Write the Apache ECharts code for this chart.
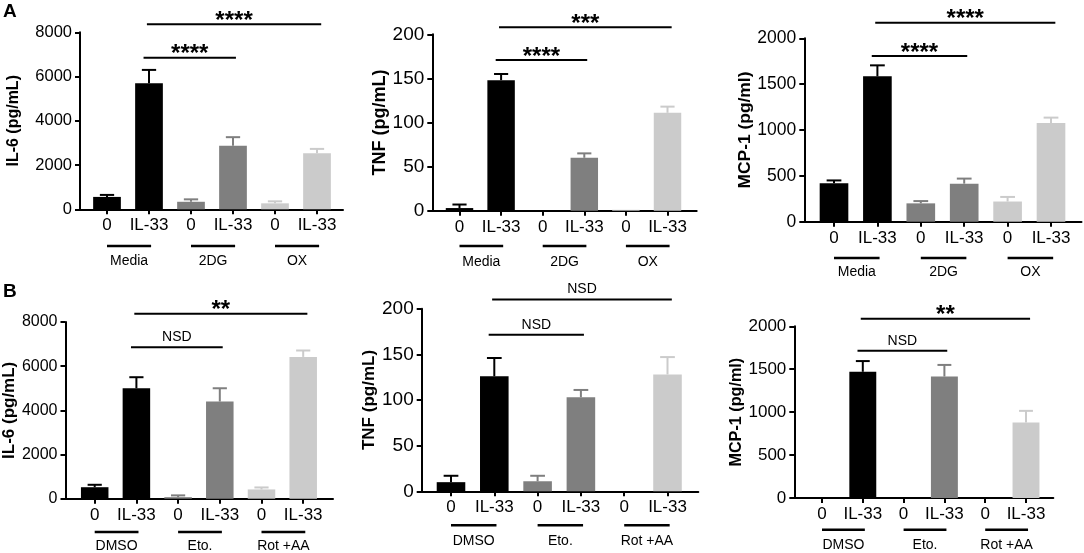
<!DOCTYPE html>
<html><head><meta charset="utf-8">
<script src="https://cdn.jsdelivr.net/npm/echarts@6/dist/echarts.min.js"></script>
<style>html,body{margin:0;padding:0;background:#fff}#c{width:1084px;height:553px}</style>
</head><body><div id="c"></div>
<script>
// ---------- data ----------
const catLabels = ['0', 'IL-33', '0', 'IL-33', '0', 'IL-33'];
const groupsA = ['Media', '2DG', 'OX'];
const groupsB = ['DMSO', 'Eto.', 'Rot +AA'];

const il6A = [560, 5700, 340, 2870, 270, 2530];
const il6AErr = [90, 600, 110, 390, 90, 200];
const tnfA = [3, 148, 0, 60, 1, 111];
const tnfAErr = [4, 7, 0, 5, 0, 7];
const mcpA = [420, 1585, 200, 415, 220, 1075];
const mcpAErr = [30, 120, 25, 55, 50, 60];

const il6B = [520, 5000, 70, 4400, 420, 6420];
const il6BErr = [110, 500, 80, 600, 90, 290];
const tnfB = [10, 126, 11, 103, 0, 128];
const tnfBErr = [7, 20, 6, 8, 0, 19];
const mcpB = [0, 1470, 0, 1415, 0, 880];
const mcpBErr = [0, 125, 0, 135, 0, 135];

// significance labels: [IL-33 vs group3 IL-33 (upper), IL-33 vs group2 IL-33 (lower)]
const sigA1 = ['****', '****'];
const sigA2 = ['***', '****'];
const sigA3 = ['****', '****'];
const sigB1 = ['**', 'NSD'];
const sigB2 = ['NSD', 'NSD'];
const sigB3 = ['**', 'NSD'];
// bracket comparisons (category indices)
const comparisons = [[1, 5], [1, 3]];
// bracket heights in data units
const brkA1 = [8360, 6850];
const brkA2 = [208, 171];
const brkA3 = [2170, 1807];
const brkB1 = [8376, 6854];
const brkB2 = [210, 171.5];
const brkB3 = [2089, 1716];

// ---------- layout / style ----------
const FONT = '"Liberation Sans", Arial, Helvetica, sans-serif';
const colors = ['#000000', '#7f7f7f', '#cbcbcb'];
const ROWH = 275;

const panels = [
  {vals: il6A, errs: il6AErr, groups: groupsA, sig: sigA1, brk: brkA1, yName: 'IL-6 (pg/mL)', max: 8000, interval: 2000,
   L: {axL: 80, axR: 343, top: 32.3, bot: 209.3, c0: 107, step: 42, nameGap: 58, rowTop: 0, ulOff: 36.7, glOff: 52, tickFont: 16.5, nameFont: 16}},
  {vals: tnfA, errs: tnfAErr, groups: groupsA, sig: sigA2, brk: brkA2, yName: 'TNF (pg/mL)', max: 200, interval: 50,
   L: {axL: 432.3, axR: 696.7, top: 34.3, bot: 210.7, c0: 459.5, step: 41.6, nameGap: 39, rowTop: 0, ulOff: 35.3, glOff: 51, tickFont: 19, nameFont: 18}},
  {vals: mcpA, errs: mcpAErr, groups: groupsA, sig: sigA3, brk: brkA3, yName: 'MCP-1 (pg/ml)', max: 2000, interval: 500,
   L: {axL: 804.3, axR: 1081.5, top: 38.3, bot: 221.7, c0: 834, step: 43.4, nameGap: 49, rowTop: 0, ulOff: 36.3, glOff: 50, tickFont: 17.5, nameFont: 17.4}},
  {vals: il6B, errs: il6BErr, groups: groupsB, sig: sigB1, brk: brkB1, yName: 'IL-6 (pg/mL)', max: 8000, interval: 2000,
   L: {axL: 62, axR: 333, top: 322, bot: 498.7, c0: 94.7, step: 41.7, nameGap: 42, rowTop: 278, ulOff: 33.3, glOff: 47.3, tickFont: 16, nameFont: 17}},
  {vals: tnfB, errs: tnfBErr, groups: groupsB, sig: sigB2, brk: brkB2, yName: 'TNF (pg/mL)', max: 200, interval: 50,
   L: {axL: 421.7, axR: 698.3, top: 308.7, bot: 491.3, c0: 451, step: 43.3, nameGap: 39, rowTop: 278, ulOff: 34, glOff: 50, tickFont: 19, nameFont: 17}},
  {vals: mcpB, errs: mcpBErr, groups: groupsB, sig: sigB3, brk: brkB3, yName: 'MCP-1 (pg/ml)', max: 2000, interval: 500,
   L: {axL: 794.3, axR: 1053.3, top: 326.3, bot: 498, c0: 822, step: 40.8, nameGap: 46, rowTop: 278, ulOff: 31.7, glOff: 46.7, tickFont: 17, nameFont: 16.2}}
];

const grid = [], xAxis = [], yAxis = [], series = [];

panels.forEach(function (p) {
  const L = p.L;
  const plotH = L.bot - L.top;
  const upp = p.max / plotH;

  // axes frame grid
  let gi = grid.length;
  grid.push({left: L.axL, top: L.top, width: L.axR - L.axL, height: plotH});
  xAxis.push({gridIndex: gi, type: 'value', min: 0, max: 1,
    axisLine: {show: true, onZero: false, lineStyle: {color: '#000', width: 2}},
    axisTick: {show: false}, axisLabel: {show: false}, splitLine: {show: false}});
  yAxis.push({gridIndex: gi, type: 'value', min: 0, max: p.max, interval: p.interval,
    name: p.yName, nameLocation: 'middle', nameGap: L.nameGap,
    nameTextStyle: {fontFamily: FONT, fontWeight: 'bold', fontSize: L.nameFont, color: '#000'},
    axisLine: {show: true, lineStyle: {color: '#000', width: 2}},
    axisTick: {show: true, length: 5, lineStyle: {color: '#000', width: 2}},
    axisLabel: {fontFamily: FONT, fontSize: L.tickFont, color: '#000', margin: 8,
      formatter: function (v) { return String(v); }},
    splitLine: {show: false}});

  // bars grid
  gi = grid.length;
  grid.push({left: L.c0 - L.step / 2, top: L.top, width: L.step * 6, height: plotH});
  const xb = xAxis.length, yb = yAxis.length;
  xAxis.push({gridIndex: gi, type: 'category', data: catLabels,
    axisLine: {show: false},
    axisTick: {show: true, alignWithLabel: true, length: 5, lineStyle: {color: '#000', width: 2}},
    axisLabel: {interval: 0, fontFamily: FONT, fontSize: 17, color: '#000', margin: 8}});
  yAxis.push({gridIndex: gi, type: 'value', min: 0, max: p.max, show: false, splitLine: {show: false}});
  series.push({type: 'bar', xAxisIndex: xb, yAxisIndex: yb, barWidth: '66%', silent: true,
    data: p.vals.map(function (v, i) { return {value: v, itemStyle: {color: colors[Math.floor(i / 2)]}}; })});
  series.push({type: 'custom', xAxisIndex: xb, yAxisIndex: yb, silent: true, z: 3,
    data: p.vals.map(function (v, i) { return [i, v, v + p.errs[i]]; }),
    renderItem: function (params, api) {
      const i = api.value(0), v = api.value(1), t = api.value(2);
      if (t <= v) return {type: 'group', children: []};
      const a = api.coord([i, v]), b = api.coord([i, t]);
      const half = api.size([1, 0])[0] * 0.17;
      const col = colors[Math.floor(params.dataIndex / 2)];
      return {type: 'group', children: [
        {type: 'line', shape: {x1: a[0], y1: a[1], x2: b[0], y2: b[1]}, style: {stroke: col, lineWidth: 2}},
        {type: 'line', shape: {x1: b[0] - half, y1: b[1], x2: b[0] + half, y2: b[1]}, style: {stroke: col, lineWidth: 2}}
      ]};
    }});

  // overlay grid for brackets and group labels (same scale as bars)
  gi = grid.length;
  grid.push({left: L.c0 - L.step / 2, top: L.rowTop, width: L.step * 6, height: ROWH});
  const xo = xAxis.length, yo = yAxis.length;
  xAxis.push({gridIndex: gi, type: 'value', min: -0.5, max: 5.5, show: false, splitLine: {show: false}});
  yAxis.push({gridIndex: gi, type: 'value', min: -(L.rowTop + ROWH - L.bot) * upp, max: (L.bot - L.rowTop) * upp,
    show: false, splitLine: {show: false}});

  const ext = [[-0.05, 0.1], [-0.13, 0.07]];
  series.push({type: 'custom', xAxisIndex: xo, yAxisIndex: yo, silent: true, z: 4,
    data: comparisons.map(function (c, k) { return [c[0] + ext[k][0], c[1] + ext[k][1], p.brk[k]]; }),
    renderItem: function (params, api) {
      const a = api.coord([api.value(0), api.value(2)]);
      const b = api.coord([api.value(1), api.value(2)]);
      const txt = p.sig[params.dataIndex];
      const star = txt.indexOf('*') >= 0;
      return {type: 'group', children: [
        {type: 'line', shape: {x1: a[0], y1: a[1], x2: b[0], y2: b[1]}, style: {stroke: '#000', lineWidth: 2}},
        {type: 'text', x: (a[0] + b[0]) / 2, y: a[1] - (star ? 3 : 10),
          style: {text: txt, font: star ? 'bold 24px ' + FONT : '14px ' + FONT, fill: '#000', align: 'center', verticalAlign: 'middle'}}
      ]};
    }});

  series.push({type: 'custom', xAxisIndex: xo, yAxisIndex: yo, silent: true, z: 4,
    data: p.groups.map(function (g, j) { return [2 * j, 2 * j + 1.05, -L.ulOff * upp, -L.glOff * upp]; }),
    renderItem: function (params, api) {
      const a = api.coord([api.value(0), api.value(2)]);
      const b = api.coord([api.value(1), api.value(2)]);
      const c = api.coord([(api.value(0) + api.value(1)) / 2, api.value(3)]);
      return {type: 'group', children: [
        {type: 'line', shape: {x1: a[0], y1: a[1], x2: b[0], y2: b[1]}, style: {stroke: '#000', lineWidth: 2.5}},
        {type: 'text', x: c[0], y: c[1],
          style: {text: p.groups[params.dataIndex], font: '14px ' + FONT, fill: '#000', align: 'center', verticalAlign: 'middle'}}
      ]};
    }});
});

const chart = echarts.init(document.getElementById('c'), null, {renderer: 'canvas'});
chart.setOption({
  animation: false,
  backgroundColor: '#fff',
  title: [
    {text: 'A', left: 3, top: 2, padding: 0, textStyle: {fontFamily: FONT, fontWeight: 'bold', fontSize: 19, color: '#000'}},
    {text: 'B', left: 3, top: 282, padding: 0, textStyle: {fontFamily: FONT, fontWeight: 'bold', fontSize: 19, color: '#000'}}
  ],
  grid: grid, xAxis: xAxis, yAxis: yAxis, series: series
});
</script>
</body></html>
